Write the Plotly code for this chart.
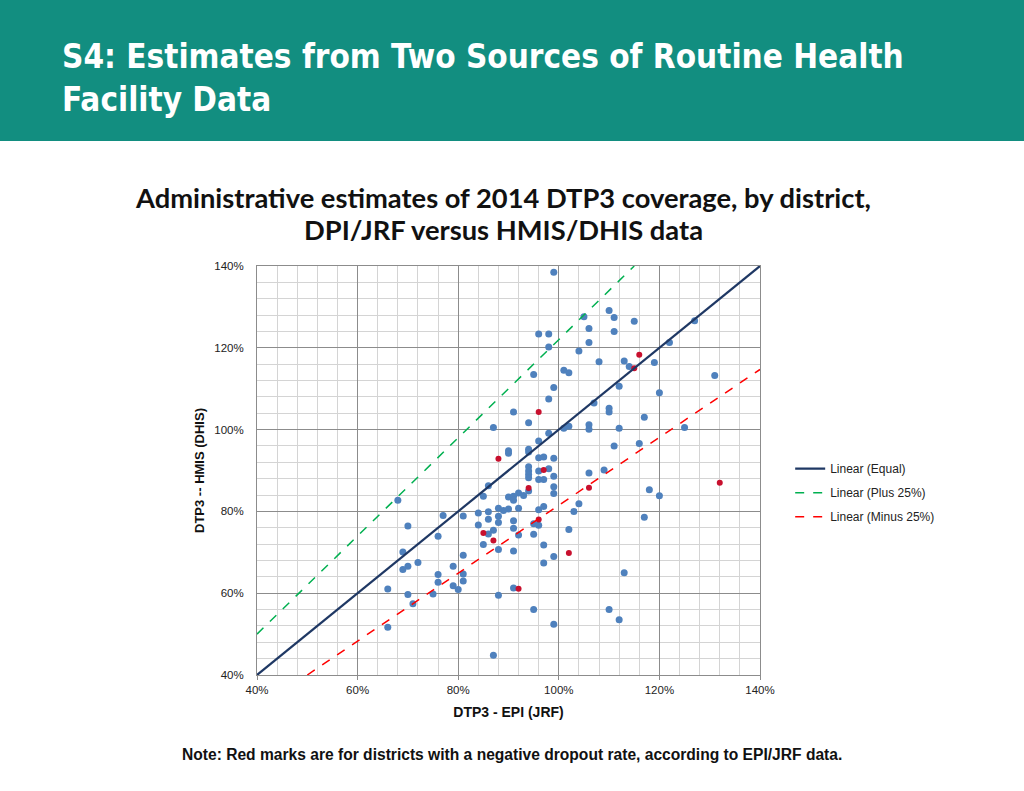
import plotly.graph_objects as go

# ---- data: DTP3 coverage (%) by district ----
blue_x = [99, 110, 105, 111, 115, 127, 106, 111, 96, 98, 106, 122, 98, 104, 108, 113, 119, 114,
          101, 102, 95, 131, 99, 112, 120, 98, 107, 110, 110, 91, 117, 94, 101, 102, 106, 106,
          112, 125, 87, 98, 96, 116, 111, 90, 90, 94, 94, 96, 97, 99, 94, 94, 94, 94, 96, 98,
          109, 99, 96, 97, 99, 99, 94, 106, 90, 91, 91, 92, 93, 89, 90, 92, 88, 96, 97, 104,
          103, 118, 120, 117, 91, 88, 88, 95, 96, 91, 92, 95, 102, 97, 91, 88, 99, 97, 113,
          91, 88, 95, 110, 112, 99, 86, 85, 68, 77, 81, 84, 86, 86, 84, 70, 87, 86, 85, 76,
          69, 81, 72, 70, 69, 79, 76, 81, 76, 81, 79, 80, 66, 75, 70, 71, 66, 87]
blue_y = [138.5, 129.1, 127.6, 127.4, 126.5, 126.6, 124.7, 124.0, 123.4, 123.4, 121.3, 121.3,
          120.2, 119.2, 116.6, 116.8, 116.4, 115.4, 114.5, 113.9, 113.5, 113.2, 110.3, 110.6,
          109.0, 107.5, 106.5, 105.2, 104.3, 104.3, 103.0, 101.7, 100.3, 100.8, 101.2, 100.1,
          100.3, 100.5, 100.5, 99.1, 97.2, 96.6, 96.0, 94.8, 94.2, 95.2, 94.5, 93.1, 93.3, 93.0,
          90.9, 89.9, 89.0, 88.2, 89.9, 90.4, 90.1, 88.6, 87.8, 87.8, 86.0, 84.4, 85.0, 89.4,
          83.5, 83.7, 82.7, 84.5, 83.9, 80.2, 80.6, 80.8, 80.8, 80.4, 81.2, 81.9, 80.0, 85.3,
          83.8, 78.6, 77.7, 77.3, 78.8, 77.0, 76.6, 75.9, 74.2, 74.4, 75.6, 71.8, 70.3, 70.7,
          69.0, 67.4, 65.0, 61.3, 59.5, 56.0, 56.0, 53.5, 52.4, 86.3, 83.7, 82.7, 79.0, 78.9,
          79.6, 79.9, 78.1, 76.7, 76.4, 75.4, 74.5, 71.9, 73.9, 70.1, 69.3, 67.5, 66.6, 65.8,
          66.6, 64.6, 64.7, 62.7, 63.0, 61.8, 60.9, 61.0, 59.8, 59.7, 57.4, 51.7, 44.8]

# districts with negative dropout rate (EPI/JRF)
red_x = [116, 115, 96, 88, 97, 94, 106, 132, 96, 102, 92, 85, 87]
red_y = [118.3, 115.0, 104.3, 92.9, 90.1, 85.7, 85.8, 87.0, 78.0, 69.8, 61.1, 74.7, 72.9]

# reference lines
equal_x, equal_y = [40, 140], [40, 140]
plus_x, plus_y = [40, 115], [50, 140]
minus_x, minus_y = [50, 140], [40, 114.7]

tick_vals = [40, 60, 80, 100, 120, 140]
tick_text = ["40%", "60%", "80%", "100%", "120%", "140%"]

fig = go.Figure()
fig.add_trace(go.Scatter(x=blue_x, y=blue_y, mode="markers", showlegend=False,
                         marker=dict(color="#4F81BD", size=7, line=dict(width=0))))
fig.add_trace(go.Scatter(x=red_x, y=red_y, mode="markers", showlegend=False,
                         marker=dict(color="#C8102E", size=6, line=dict(width=0))))
fig.add_trace(go.Scatter(x=equal_x, y=equal_y, mode="lines", name="Linear (Equal)",
                         legendgroup="a", line=dict(color="#1F3864", width=2.2)))
fig.add_trace(go.Scatter(x=plus_x, y=plus_y, mode="lines", name="Linear (Plus 25%)",
                         legendgroup="b", line=dict(color="#00B050", width=1.5, dash="dash")))
fig.add_trace(go.Scatter(x=minus_x, y=minus_y, mode="lines", name="Linear (Minus 25%)",
                         legendgroup="c", line=dict(color="#FF0000", width=1.5, dash="dash")))

axis_common = dict(range=[40, 140], tickvals=tick_vals, ticktext=tick_text,
                   showgrid=True, gridcolor="#8C8C8C", gridwidth=1,
                   minor=dict(dtick=4, showgrid=True, gridcolor="#D4D4D4", gridwidth=1),
                   showline=True, linecolor="#8C8C8C", linewidth=1, mirror=True,
                   zeroline=False, tickfont=dict(family="Liberation Sans", size=11.5, color="#222"))

fig.update_xaxes(**axis_common, ticks="outside", ticklen=4, tickcolor="#8C8C8C",
                 title=dict(text="<b>DTP3 - EPI (JRF)</b>", standoff=12,
                            font=dict(family="Liberation Sans", size=14, color="#111")))
fig.update_yaxes(**axis_common, ticks="", ticklabelstandoff=10,
                 title=dict(text="<b>DTP3 -- HMIS (DHIS)</b>", standoff=6,
                            font=dict(family="Liberation Sans", size=13, color="#111")))

fig.update_layout(
    width=1024, height=791,
    margin=dict(l=257, r=264, t=266, b=116),
    paper_bgcolor="white", plot_bgcolor="white",
    legend=dict(x=1.06, y=0.54, xanchor="left", yanchor="top", tracegroupgap=5,
                font=dict(family="Liberation Sans", size=12, color="#222"),
                bgcolor="rgba(0,0,0,0)"),
    shapes=[dict(type="rect", xref="paper", yref="paper", x0=-0.6, x1=1.6,
                 y0=(675 - 141) / 409, y1=2.0, fillcolor="#128E80",
                 line=dict(width=0), layer="below")],
    annotations=[
        dict(text="<b>S4: Estimates from Two Sources of Routine Health<br>Facility Data</b>",
             xref="paper", yref="paper", x=(60 - 257) / 503, y=(675 - 35) / 409,
             xanchor="left", yanchor="top", align="left", showarrow=False,
             font=dict(family="DejaVu Sans Condensed", size=33, color="white")),
        dict(text="<b>Administrative estimates of 2014 DTP3 coverage, by district,</b>",
             xref="paper", yref="paper", x=(503 - 257) / 503, y=(675 - 198) / 409,
             xanchor="center", yanchor="middle", showarrow=False,
             font=dict(family="Lato", size=27.3, color="#111")),
        dict(text="<b>DPI/JRF versus HMIS/DHIS data</b>",
             xref="paper", yref="paper", x=(503 - 257) / 503, y=(675 - 229) / 409,
             xanchor="center", yanchor="middle", showarrow=False,
             font=dict(family="Lato", size=27.3, color="#111")),
        dict(text="<b>Note: Red marks are for districts with a negative dropout rate, according to EPI/JRF data.</b>",
             xref="paper", yref="paper", x=(512 - 257) / 503, y=(675 - 754) / 409,
             xanchor="center", yanchor="middle", showarrow=False,
             font=dict(family="Liberation Sans", size=15.6, color="#111")),
    ],
)

fig.write_html("out.html", config={"displayModeBar": False},
               post_script="document.body.style.margin='0';document.body.style.padding='0';")
